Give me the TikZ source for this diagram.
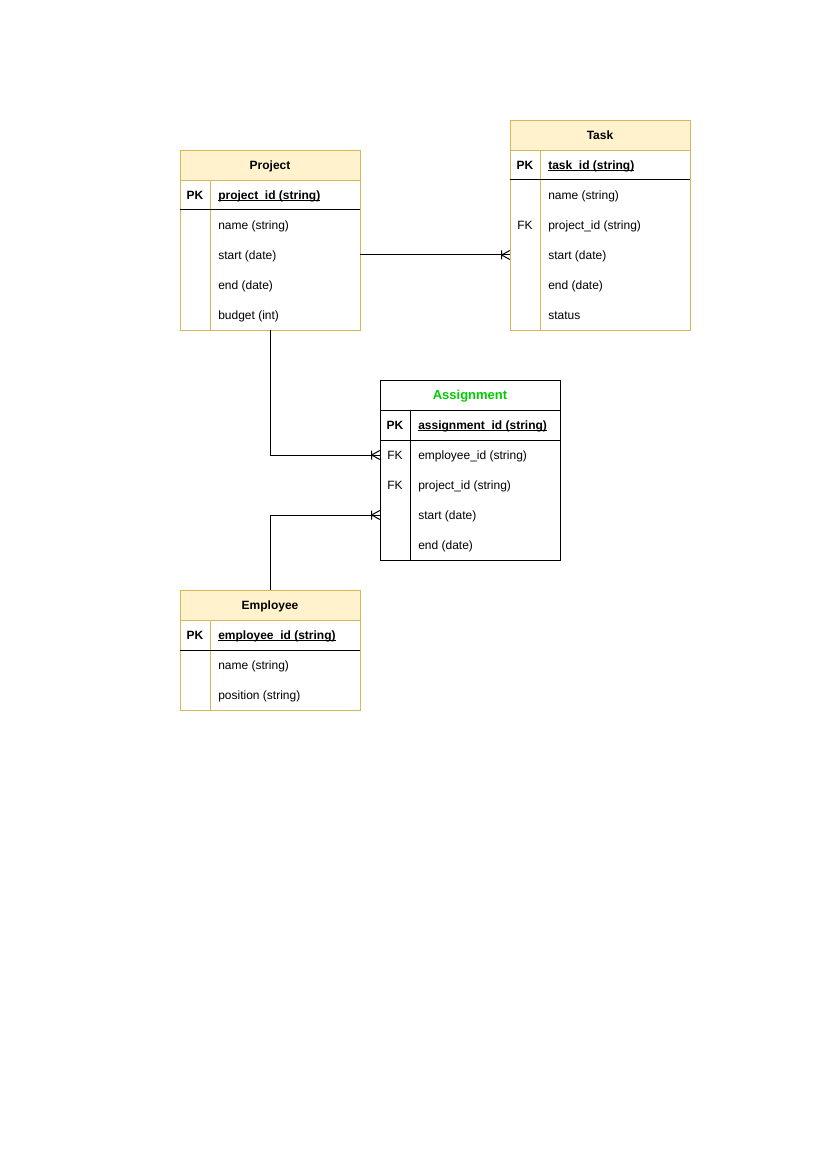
\documentclass[tikz,border=0pt]{standalone}
\usepackage{fontspec}
\setmainfont{Liberation Sans}
\definecolor{hdrfill}{HTML}{FFF2CC}
\definecolor{hdrline}{HTML}{D6B656}
\definecolor{titlegreen}{HTML}{00CC00}
% underline drawn close to the baseline
\newcommand{\keyline}[1]{\setbox0\hbox{#1}\rlap{\rule[-1.1pt]{\wd0}{0.55pt}}\box0}
\begin{document}
\begin{tikzpicture}[x=0.75pt,y=-0.75pt,
  every node/.style={font=\fontsize{9pt}{11pt}\selectfont},
  hdrY/.style={draw=hdrline,fill=hdrfill,minimum width=135pt,minimum height=22.5pt,inner sep=0pt,text height=6.5pt,text depth=0pt,font=\fontsize{9pt}{11pt}\selectfont\bfseries},
  hdrK/.style={draw=black,fill=white,minimum width=135pt,minimum height=22.5pt,inner sep=0pt,text height=7pt,text depth=0pt,font=\fontsize{9.75pt}{11pt}\selectfont\bfseries,text=titlegreen},
  bodyY/.style={draw=hdrline,minimum width=135pt,inner sep=0pt},
  bodyK/.style={draw=black,minimum width=135pt,inner sep=0pt},
  keytxt/.style={inner sep=0pt,anchor=base,yshift=-3.2pt},
  pktxt/.style={keytxt,font=\fontsize{9pt}{11pt}\selectfont\bfseries},
  fieldtxt/.style={inner sep=0pt,anchor=base west,yshift=-3.2pt},
  pkfield/.style={fieldtxt,font=\fontsize{9pt}{11pt}\selectfont\bfseries},
  rel/.style={draw=black,line width=0.75pt},
  onemany/.pic={\draw[black,line width=0.75pt] (-8,-4.5)--(-8,4.5) (-8,0)--(0,-4.5) (-8,0)--(0,4.5);}
]
\useasboundingbox (0,0) rectangle (827,1169);
\fill[white] (0,0) rectangle (827,1169);

% ---------- Project ----------
\node[bodyY,minimum height=112.5pt] (projBody) at (270,255) {};
\node[hdrY] (proj) at (270,165) {Project};
\draw[hdrline,line width=0.75pt] (210,180) -- (210,330);
\draw[black,line width=0.75pt] (180,210) -- (360,210);
\node[pktxt] (projPK) at (195,195) {PK};
\node[pkfield] (projId) at (218,195) {\keyline{project\_id (string)}};
\node[fieldtxt] (projName) at (218,225) {name (string)};
\node[fieldtxt] (projStart) at (218,255) {start (date)};
\node[fieldtxt] (projEnd) at (218,285) {end (date)};
\node[fieldtxt] (projBudget) at (218,315) {budget (int)};

% ---------- Task ----------
\node[bodyY,minimum height=135pt] (taskBody) at (600,240) {};
\node[hdrY] (task) at (600,135) {Task};
\draw[hdrline,line width=0.75pt] (540,150) -- (540,330);
\draw[black,line width=0.75pt] (510,180) -- (690,180);
\node[pktxt] (taskPK) at (525,165) {PK};
\node[pkfield] (taskId) at (548,165) {\keyline{task\_id (string)}};
\node[fieldtxt] (taskName) at (548,195) {name (string)};
\node[keytxt] (taskFK) at (525,225) {FK};
\node[fieldtxt] (taskProj) at (548,225) {project\_id (string)};
\node[fieldtxt] (taskStart) at (548,255) {start (date)};
\node[fieldtxt] (taskEnd) at (548,285) {end (date)};
\node[fieldtxt] (taskStatus) at (548,315) {status};

% ---------- Assignment ----------
\node[bodyK,minimum height=112.5pt] (asgBody) at (470,485) {};
\node[hdrK] (asg) at (470,395) {Assignment};
\draw[black,line width=0.75pt] (410,410) -- (410,560);
\draw[black,line width=0.75pt] (380,440) -- (560,440);
\node[pktxt] (asgPK) at (395,425) {PK};
\node[pkfield] (asgId) at (418,425) {\keyline{assignment\_id (string)}};
\node[keytxt] (asgFK1) at (395,455) {FK};
\node[fieldtxt] (asgEmp) at (418,455) {employee\_id (string)};
\node[keytxt] (asgFK2) at (395,485) {FK};
\node[fieldtxt] (asgProj) at (418,485) {project\_id (string)};
\node[fieldtxt] (asgStart) at (418,515) {start (date)};
\node[fieldtxt] (asgEnd) at (418,545) {end (date)};

% ---------- Employee ----------
\node[bodyY,minimum height=67.5pt] (empBody) at (270,665) {};
\node[hdrY] (emp) at (270,605) {Employee};
\draw[hdrline,line width=0.75pt] (210,620) -- (210,710);
\draw[black,line width=0.75pt] (180,650) -- (360,650);
\node[pktxt] (empPK) at (195,635) {PK};
\node[pkfield] (empId) at (218,635) {\keyline{employee\_id (string)}};
\node[fieldtxt] (empName) at (218,665) {name (string)};
\node[fieldtxt] (empPos) at (218,695) {position (string)};

% ---------- Relationships ----------
\coordinate (taskEnd1) at (taskBody.west |- 0,255);
\coordinate (asgEnd1) at (asgBody.west |- 0,455);
\coordinate (asgEnd2) at (asgBody.west |- 0,515);
\draw[rel] (projBody.east) -- (taskEnd1);
\pic at (taskEnd1) {onemany};
\draw[rel] (projBody.south) |- (asgEnd1);
\pic at (asgEnd1) {onemany};
\draw[rel] (emp.north) |- (asgEnd2);
\pic at (asgEnd2) {onemany};
\end{tikzpicture}
\end{document}
